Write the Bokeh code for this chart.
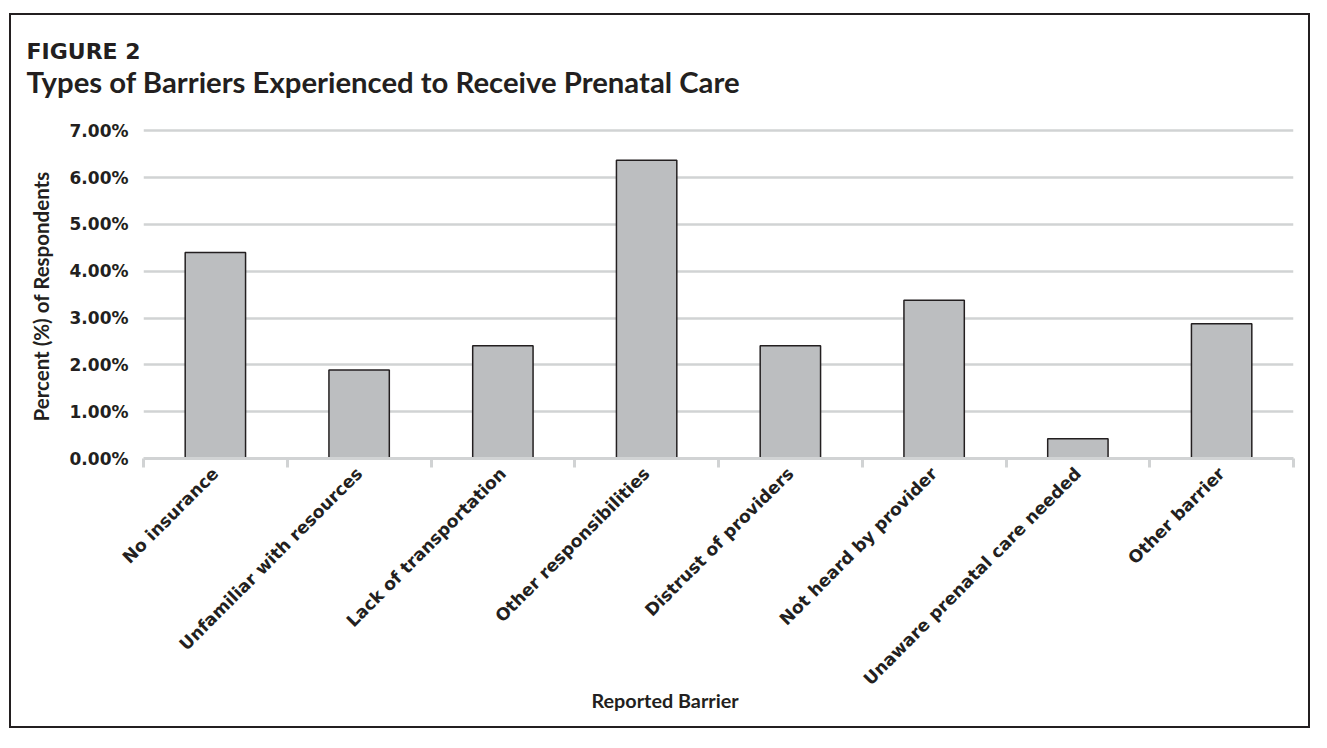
import math
from bokeh.plotting import figure
from bokeh.models import ColumnDataSource, Range1d, FixedTicker, PrintfTickFormatter, Title
from bokeh.embed import file_html
from bokeh.resources import INLINE

# ---- data ----
figure_label = "FIGURE 2"
chart_title = "Types of Barriers Experienced to Receive Prenatal Care"
categories = [
    "No insurance",
    "Unfamiliar with resources",
    "Lack of transportation",
    "Other responsibilities",
    "Distrust of providers",
    "Not heard by provider",
    "Unaware prenatal care needed",
    "Other barrier",
]
percent_values = [4.40, 1.89, 2.41, 6.37, 2.41, 3.38, 0.42, 2.88]
y_ticks = [0, 1, 2, 3, 4, 5, 6, 7]
y_axis_title = "Percent (%) of Respondents"
x_axis_title = "Reported Barrier"

# ---- styles ----
TXT = "#231f20"
GRID = "#d1d3d4"
BAR = "#bcbec0"

n = len(categories)
centers = [i + 0.5 for i in range(n)]
bounds = [float(i) for i in range(n + 1)]

src = ColumnDataSource(dict(x=centers, value=percent_values, name=categories))

p = figure(
    width=1301, height=715,
    x_range=Range1d(0, n), y_range=Range1d(0, 7.626),
    output_backend="svg", toolbar_location=None,
    min_border_left=132, min_border_right=19,
    min_border_top=86, min_border_bottom=272,
    title=figure_label,
)
p.styles = {"margin-left": "9px", "margin-top": "13px", "border": "2px solid #231f20"}
p.background_fill_color = "white"
p.border_fill_color = "white"
p.outline_line_color = None

# titles (p.title is the outermost)
p.title.text_font = "DejaVu Sans"
p.title.text_font_size = "22px"
p.title.text_font_style = "bold"
p.title.text_color = TXT
p.title.align = "left"
p.title.offset = -117
p.title.standoff = -10

t_sub = Title(text=chart_title, text_font="Lato", text_font_size="29.3px",
              text_font_style="bold", text_color=TXT, align="left", offset=-117, standoff=6)
p.add_layout(t_sub, "above")

# bars
p.vbar(x="x", top="value", bottom=0, width=0.42, source=src,
       fill_color=BAR, line_color=TXT, line_width=1.5)

# y axis
p.yaxis.ticker = FixedTicker(ticks=y_ticks)
p.yaxis.formatter = PrintfTickFormatter(format="%.2f%%")
p.yaxis.axis_line_color = None
p.yaxis.major_tick_line_color = None
p.yaxis.minor_tick_line_color = None
p.yaxis.major_tick_out = 0
p.yaxis.major_label_standoff = 15
p.yaxis.major_label_text_font = "DejaVu Sans"
p.yaxis.major_label_text_font_style = "bold"
p.yaxis.major_label_text_font_size = "17px"
p.yaxis.major_label_text_color = TXT

y_title = Title(text=y_axis_title, text_font="Lato", text_font_size="20.5px",
                text_font_style="bold", text_color=TXT, align="left", offset=37,
                vertical_align="bottom", standoff=28)
p.add_layout(y_title, "left")

# x axis
p.xaxis.ticker = FixedTicker(ticks=centers, minor_ticks=bounds)
p.xaxis.major_label_overrides = {c: name for c, name in zip(centers, categories)}
p.xaxis.major_label_orientation = math.pi / 4
p.xaxis.major_tick_line_color = None
p.xaxis.major_tick_out = 0
p.xaxis.major_tick_in = 0
p.xaxis.minor_tick_line_color = GRID
p.xaxis.minor_tick_line_width = 3
p.xaxis.minor_tick_out = 9
p.xaxis.minor_tick_in = 0
p.xaxis.axis_line_color = GRID
p.xaxis.axis_line_width = 3
p.xaxis.major_label_standoff = 3
p.xaxis.major_label_text_font = "DejaVu Sans"
p.xaxis.major_label_text_font_style = "bold"
p.xaxis.major_label_text_font_size = "17.2px"
p.xaxis.major_label_text_color = TXT

x_title = Title(text=x_axis_title, text_font="Lato", text_font_size="19.8px",
                text_font_style="bold", text_color=TXT, align="left", offset=448,
                vertical_align="top", standoff=-24)
p.add_layout(x_title, "below")

# grid
p.xgrid.grid_line_color = None
p.ygrid.ticker = FixedTicker(ticks=y_ticks)
p.ygrid.grid_line_color = GRID
p.ygrid.grid_line_width = 2.5

open("out.html", "w").write(file_html(p, INLINE))
